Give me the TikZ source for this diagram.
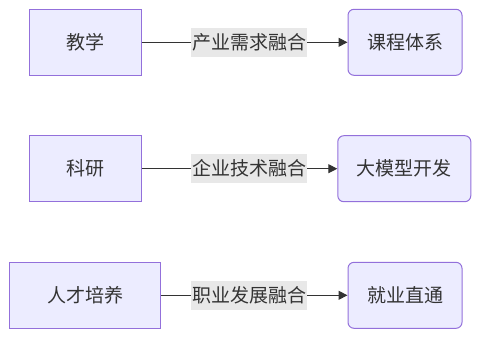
\documentclass[tikz,border=0pt]{standalone}
\usepackage{fontspec}
\setmainfont{Noto Sans CJK SC}
\usetikzlibrary{arrows.meta}
\definecolor{boxfill}{HTML}{ECECFF}
\definecolor{boxline}{HTML}{9370DB}
\definecolor{txt}{HTML}{333333}
\definecolor{lblbg}{HTML}{E8E8E8}
\begin{document}
\begin{tikzpicture}[x=1pt,y=-1pt,
  every node/.style={font=\fontsize{19}{22}\selectfont, text=txt, inner sep=0pt},
  sq/.style={draw=boxline, fill=boxfill, line width=1pt, minimum height=66pt},
  rd/.style={sq, rounded corners=6pt},
  lbl/.style={fill=lblbg, minimum width=116pt, minimum height=29pt},
  edge/.style={draw=txt, line width=1pt, -{Triangle[length=9pt,width=9pt]}}]
\useasboundingbox (0,0) rectangle (481,338);
\node[sq, minimum width=112pt] (jx) at (85,42.3) {教学};
\node[rd, minimum width=114pt] (kc) at (405,42.3) {课程体系};
\node[sq, minimum width=112pt] (ky) at (85,168.7) {科研};
\node[rd, minimum width=133pt] (dm) at (404.3,168.7) {大模型开发};
\node[sq, minimum width=151pt] (rc) at (85,295.3) {人才培养};
\node[rd, minimum width=114pt] (jy) at (405,295.3) {就业直通};
\draw[edge] (jx) -- (kc);
\draw[edge] (ky) -- (dm);
\draw[edge] (rc) -- (jy);
\node[lbl] (l1) at (249,42.5) {产业需求融合};
\node[lbl] (l2) at (249,168.5) {企业技术融合};
\node[lbl] (l3) at (249,295.5) {职业发展融合};
\end{tikzpicture}
\end{document}
